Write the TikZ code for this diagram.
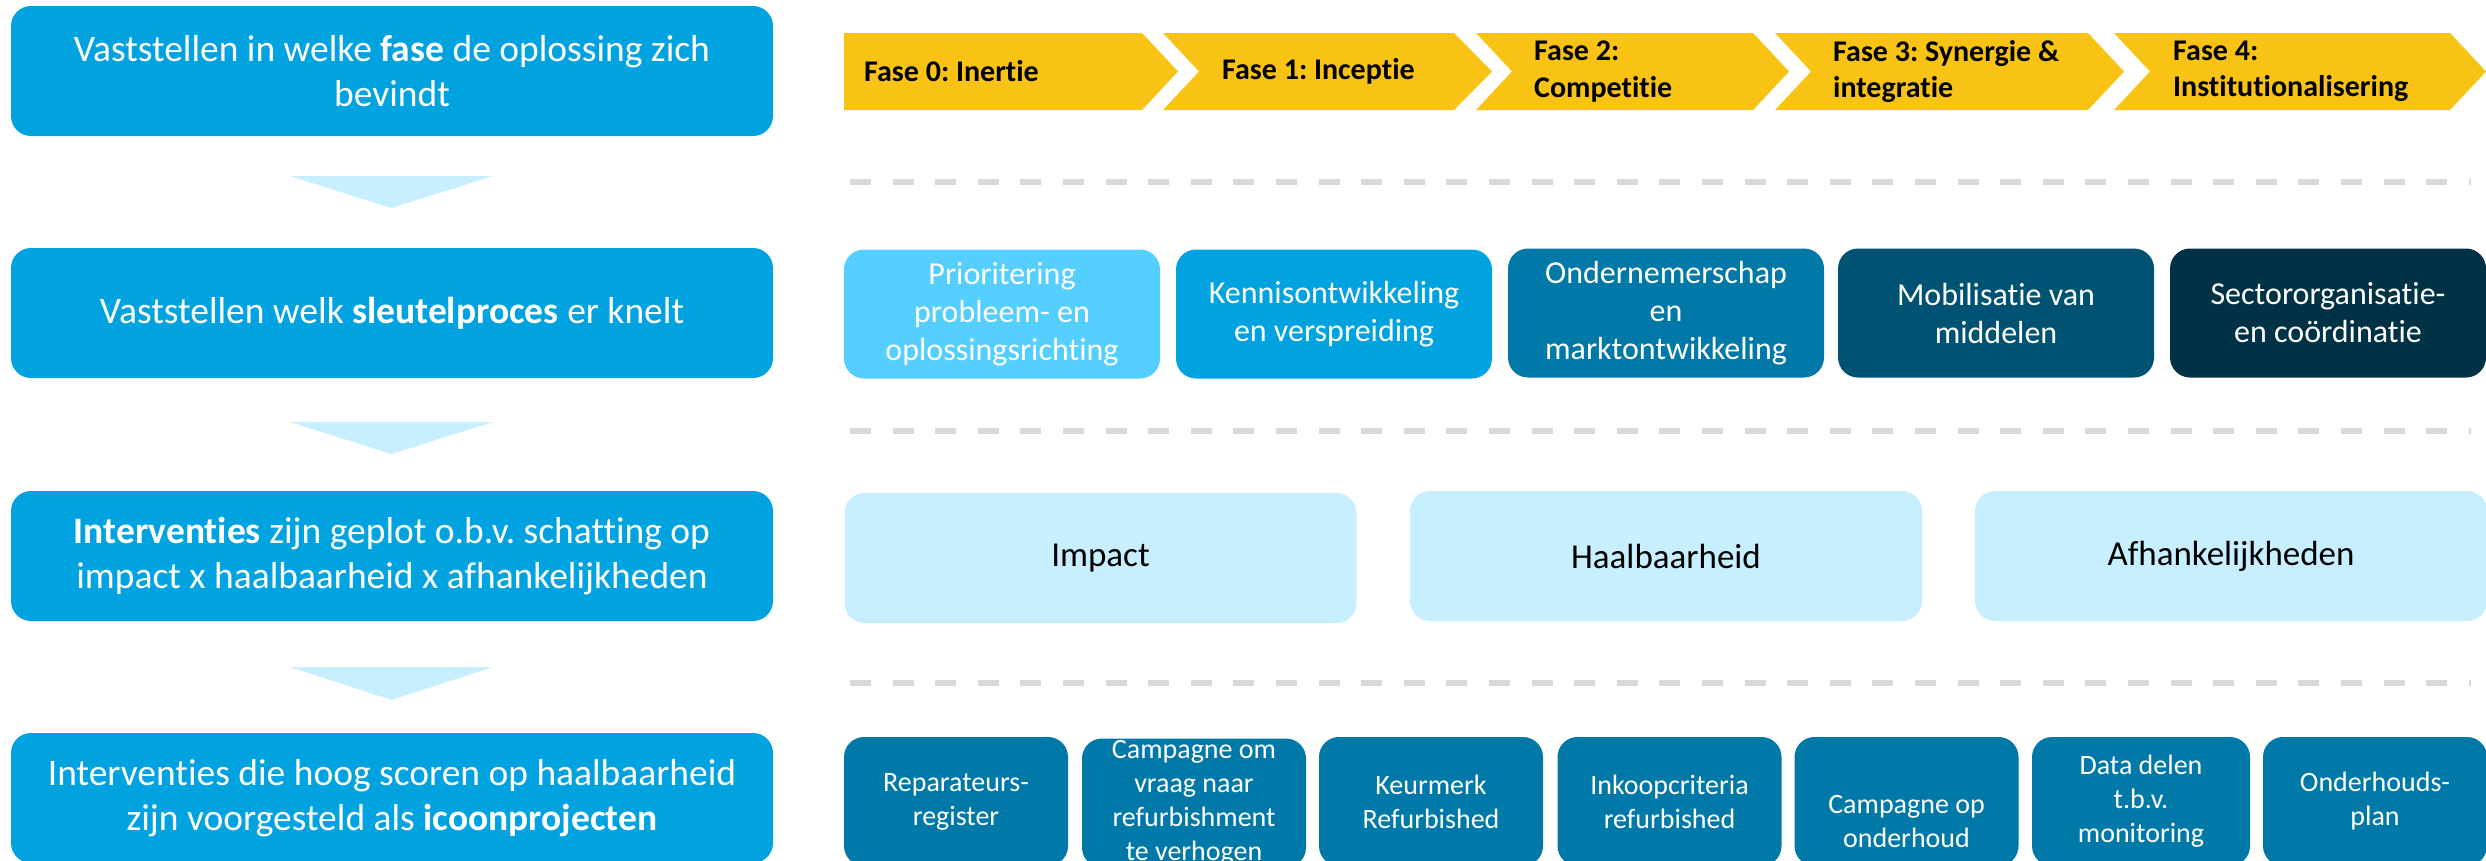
\documentclass[tikz,border=0pt]{standalone}
\usepackage{fontspec}
\setmainfont{Carlito}[Ligatures={NoCommon,NoContextual}]
\frenchspacing
\definecolor{lblue}{HTML}{00A3E0}
\definecolor{tri}{HTML}{C7EFFF}
\definecolor{gold}{HTML}{F8C314}
\definecolor{dashgray}{HTML}{D9D9D9}
\definecolor{kA}{HTML}{55CFFF}
\definecolor{kB}{HTML}{00A3E0}
\definecolor{kC}{HTML}{0079A8}
\definecolor{kD}{HTML}{005273}
\definecolor{kE}{HTML}{003246}
\definecolor{pale}{HTML}{C7EFFF}
\begin{document}
\begin{tikzpicture}[x=1pt,y=-1pt,
  lbox/.style={fill=lblue, rounded corners=20pt, text=white, align=center,
    font=\fontsize{37.5}{44.5}\selectfont, inner sep=0pt,
    minimum width=762pt, minimum height=130pt},
  arrowtri/.style={fill=tri},
  chev/.style={fill=gold},
  chevtext/.style={anchor=west, align=left, inner sep=0pt, text=black,
    font=\bfseries\fontsize{30}{36.5}\selectfont},
  dashline/.style={draw=dashgray, line width=6pt, dash pattern=on 21pt off 21.6pt},
  kbox/.style={rounded corners=20pt, text=white, align=center, inner sep=0pt,
    font=\fontsize{32}{38}\selectfont, minimum width=316pt, minimum height=129pt},
  ibox/.style={fill=pale, rounded corners=20pt, text=black, align=center, inner sep=0pt,
    font=\fontsize{35}{42}\selectfont, minimum width=512pt, minimum height=130pt},
  pbox/.style={fill=kC, rounded corners=20pt, text=white, align=center, inner sep=0pt,
    font=\fontsize{28}{34}\selectfont, minimum width=224pt, minimum height=129pt}
]
\useasboundingbox (0,0) rectangle (2486,860);
\clip (0,0) rectangle (2486,860);
\fill[white] (0,0) rectangle (2486,860);

% left column
\node[lbox] (L1) at (392,71) {Vaststellen in welke \textbf{fase} de oplossing zich\\bevindt};
\node[lbox] (L2) at (392,313) {Vaststellen welk \textbf{sleutelproces} er knelt};
\node[lbox] (L3) at (392,556) {\textbf{Interventies} zijn geplot o.b.v. schatting op\\impact x haalbaarheid x afhankelijkheden};
\node[lbox] (L4) at (392,798) {Interventies die hoog scoren op haalbaarheid\\zijn voorgesteld als \textbf{icoonprojecten}};

\fill[arrowtri] (290,176) -- (493,176) -- (391.5,208) -- cycle;
\fill[arrowtri] (290,422) -- (493,422) -- (391.5,454) -- cycle;
\fill[arrowtri] (290,667) -- (493,667) -- (391.5,700) -- cycle;

% chevrons
\fill[chev] (844,33) -- (1142,33) -- (1178,71.5) -- (1142,110) -- (844,110) -- cycle;
\fill[chev] (1163,33) -- (1454,33) -- (1492,71.5) -- (1454,110) -- (1163,110) -- (1199,71.5) -- cycle;
\fill[chev] (1476,33) -- (1753,33) -- (1789,71.5) -- (1753,110) -- (1476,110) -- (1512,71.5) -- cycle;
\fill[chev] (1775,33) -- (2088,33) -- (2124,71.5) -- (2088,110) -- (1775,110) -- (1811,71.5) -- cycle;
\fill[chev] (2114,33) -- (2450,33) -- (2486,71.5) -- (2450,110) -- (2114,110) -- (2150,71.5) -- cycle;
\node[chevtext] (F0) at (864,71.5) {Fase 0: Inertie};
\node[chevtext] (F1) at (1222,71.5) {Fase 1: Inceptie};
\node[chevtext] (F2) at (1534,71.5) {Fase 2:\\Competitie};
\node[chevtext] (F3) at (1833,71.5) {Fase 3: Synergie \&\\integratie};
\node[chevtext] (F4) at (2173,71.5) {Fase 4:\\Institutionalisering};

% dashed separators
\draw[dashline] (850,182) -- (2471,182);
\draw[dashline] (850,431) -- (2471,431);
\draw[dashline] (850,683) -- (2471,683);

% key processes
\node[kbox, fill=kA] (K1) at (1002,314) {Prioritering\\probleem- en\\oplossingsrichting};
\node[kbox, fill=kB] (K2) at (1334,314) {Kennisontwikkeling\\en verspreiding};
\node[kbox, fill=kC] (K3) at (1666,313) {Ondernemerschap\\en\\marktontwikkeling};
\node[kbox, fill=kD] (K4) at (1996,313) {Mobilisatie van\\middelen};
\node[kbox, fill=kE] (K5) at (2328,313) {Sectororganisatie-\\en coördinatie};

% criteria
\node[ibox] (I1) at (1100.5,558) {Impact};
\node[ibox] (I2) at (1666,556) {Haalbaarheid};
\node[ibox] (I3) at (2231,556) {Afhankelijkheden};

% icon projects
\node[pbox] (P1) at (956,801.5) {Reparateurs-\\register};
\node[pbox] (P2) at (1194,803) {Campagne om\\vraag naar\\refurbishment\\te verhogen};
\node[pbox] (P3) at (1431,801.5) {Keurmerk\\Refurbished};
\node[pbox] (P4) at (1669.5,801.5) {Inkoopcriteria\\refurbished};
\node[pbox] (P5) at (1906.5,801.5) {\strut\\Campagne op\\onderhoud};
\node[pbox, minimum width=218pt] (P6) at (2141,801.5) {Data delen\\t.b.v.\\monitoring};
\node[pbox] (P7) at (2375,801.5) {Onderhouds-\\plan};
\end{tikzpicture}
\end{document}
